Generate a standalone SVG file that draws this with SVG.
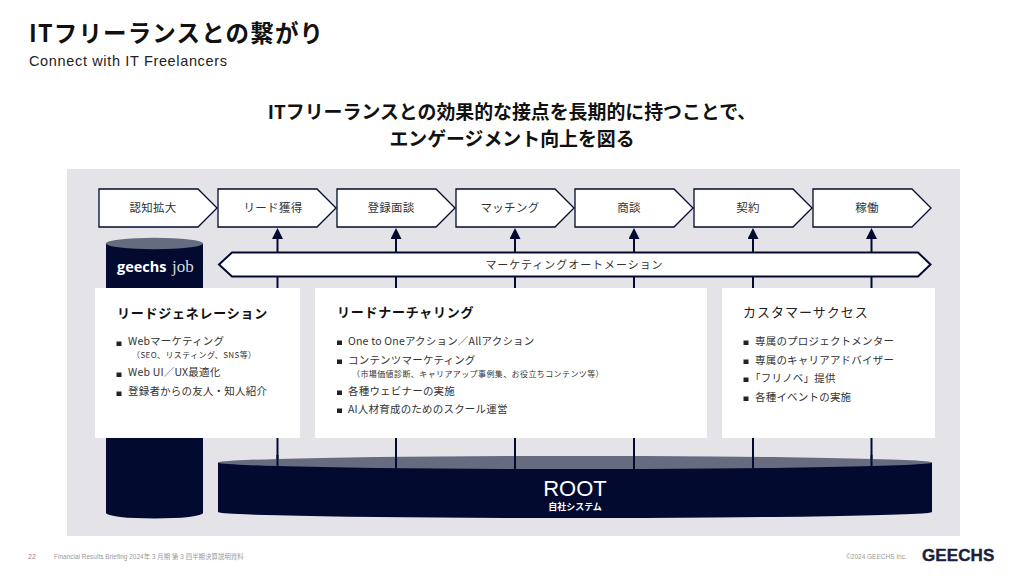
<svg xmlns="http://www.w3.org/2000/svg" width="1024" height="576" viewBox="0 0 1024 576">
<style>
text{font-family:"Noto Sans CJK JP","Noto Sans",sans-serif;fill:#222}
.lat{font-family:"Liberation Sans","Noto Sans CJK JP",sans-serif}
.step{fill:#fff;stroke:#020a30;stroke-width:1.3}
.st{font-size:11.5px;text-anchor:middle;letter-spacing:.3px;fill:#333}
.h{font-size:13px;font-weight:700;letter-spacing:.75px;fill:#111}
.b{font-size:10.5px;letter-spacing:.2px;fill:#333}
.s{font-size:8px;letter-spacing:.4px;fill:#333}
.c{stroke:#020a30;stroke-width:2;fill:none}
.dark{fill:#020a30}
.top{fill:#666b80}
.bu{fill:#222}
</style>
<defs>
<marker id="ah" markerUnits="userSpaceOnUse" markerWidth="11" markerHeight="11" refX="0" refY="5" orient="auto" viewBox="0 0 10 10"><path d="M0 0L10 5L0 10Z" fill="#020a30"/></marker>
</defs>
<rect width="1024" height="576" fill="#fff"/>
<text x="29" y="42" style="font-size:23.5px;font-weight:700;letter-spacing:1.15px;fill:#111">ITフリーランスとの繋がり</text>
<text x="29" y="66" class="lat" style="font-size:14.5px;letter-spacing:.65px;fill:#222">Connect with IT Freelancers</text>
<g text-anchor="middle" style="font-size:18.9px;font-weight:700">
<text x="512" y="119" style="fill:#111">ITフリーランスとの効果的な接点を長期的に持つことで、</text>
<text x="512" y="146" style="fill:#111">エンゲージメント向上を図る</text>
</g>
<rect id="panel" x="67" y="169" width="893" height="367" fill="#e3e3e8"/>

<g id="connectors">
<path class="c" d="M277.500 462V239" marker-end="url(#ah)"/>
<path class="c" d="M396 462V239" marker-end="url(#ah)"/>
<path class="c" d="M515 462V239" marker-end="url(#ah)"/>
<path class="c" d="M634 462V239" marker-end="url(#ah)"/>
<path class="c" d="M753 462V239" marker-end="url(#ah)"/>
<path class="c" d="M871.500 462V239" marker-end="url(#ah)"/>
</g>

<g id="step-1"><path class="step" d="M99 189H198L217 208L198 227H99Z"/><text class="st" x="153" y="212">認知拡大</text></g>
<g id="step-2"><path class="step" d="M218 189H317L336 208L317 227H218Z"/><text class="st" x="273" y="212">リード獲得</text></g>
<g id="step-3"><path class="step" d="M337 189H436L455 208L436 227H337Z"/><text class="st" x="391" y="212">登録面談</text></g>
<g id="step-4"><path class="step" d="M456 189H555L574 208L555 227H456Z"/><text class="st" x="510" y="212">マッチング</text></g>
<g id="step-5"><path class="step" d="M575 189H674L693 208L674 227H575Z"/><text class="st" x="629" y="212">商談</text></g>
<g id="step-6"><path class="step" d="M694 189H793L812 208L793 227H694Z"/><text class="st" x="748" y="212">契約</text></g>
<g id="step-7"><path class="step" d="M813 189H912L931 208L912 227H813Z"/><text class="st" x="867" y="212">稼働</text></g>

<g id="geechs-job">
<path class="dark" d="M106 243.500V513A48.500 5.500 0 0 0 203 513V243.500Z"/>
<ellipse class="top" cx="154.500" cy="243.500" rx="48.500" ry="5.700"/>
<text x="117" y="272" style="font-family:'Open Sans','Noto Sans',sans-serif;font-size:14.500px;font-weight:700;fill:#fff">geechs</text>
<text x="172" y="272" style="font-family:'Liberation Serif',serif;font-size:17px;fill:#d8d9e0">job</text>
</g>

<g id="automation">
<path d="M219 264.500L232 252.500H918L930.500 264.500L918 276.500H232Z" fill="#fff" stroke="#020a30" stroke-width="2"/>
<text class="st" x="574.500" y="268.500" style="font-size:11px;letter-spacing:.95px">マーケティングオートメーション</text>
</g>

<g id="root">
<path class="dark" d="M218 462.500V512A357 6 0 0 0 932 512V462.500Z"/>
<ellipse class="top" cx="575" cy="462.500" rx="357" ry="6.500"/>
<path class="c" d="M277.500 455V468.500M396 455V468.500M515 455V469M634 455V469M753 455V468.500M871.500 455V468" />
<text class="lat" x="575" y="496" text-anchor="middle" style="font-size:22px;fill:#fff">ROOT</text>
<text x="575" y="510" text-anchor="middle" style="font-size:9px;font-weight:700;fill:#fff">自社システム</text>
</g>

<g id="lead-generation">
<rect x="95" y="288" width="205" height="150" fill="#fff"/>
<text class="h" x="117" y="318">リードジェネレーション</text>
<rect class="bu" x="116.500" y="341.500" width="5" height="4.500"/>
<text class="b" x="128" y="345">Webマーケティング</text>
<text class="s" x="132" y="358">（SEO、リスティング、SNS等）</text>
<rect class="bu" x="116.500" y="372.500" width="5" height="4.500"/>
<text class="b" x="128" y="376">Web UI／UX最適化</text>
<rect class="bu" x="116.500" y="391.500" width="5" height="4.500"/>
<text class="b" x="128" y="395">登録者からの友人・知人紹介</text>
</g>

<g id="lead-nurturing">
<rect x="315" y="288" width="392" height="150" fill="#fff"/>
<text class="h" x="337" y="317">リードナーチャリング</text>
<rect class="bu" x="337" y="340.500" width="5" height="4.500"/>
<text class="b" x="348" y="345">One to Oneアクション／Allアクション</text>
<rect class="bu" x="337" y="359.500" width="5" height="4.500"/>
<text class="b" x="348" y="364">コンテンツマーケティング</text>
<text class="s" x="352" y="377">（市場価値診断、キャリアアップ事例集、お役立ちコンテンツ等）</text>
<rect class="bu" x="337" y="390.500" width="5" height="4.500"/>
<text class="b" x="348" y="395">各種ウェビナーの実施</text>
<rect class="bu" x="337" y="408.500" width="5" height="4.500"/>
<text class="b" x="348" y="413">AI人材育成のためのスクール運営</text>
</g>

<g id="customer-success">
<rect x="722" y="288" width="213" height="150" fill="#fff"/>
<text x="743" y="317" style="font-size:13px;letter-spacing:1px;fill:#222">カスタマーサクセス</text>
<rect class="bu" x="743.500" y="340.500" width="5" height="4.500"/>
<text class="b" x="755" y="345">専属のプロジェクトメンター</text>
<rect class="bu" x="743.500" y="359.500" width="5" height="4.500"/>
<text class="b" x="755" y="364">専属のキャリアアドバイザー</text>
<rect class="bu" x="743.500" y="377.500" width="5" height="4.500"/>
<text class="b" x="750" y="382">「フリノベ」提供</text>
<rect class="bu" x="743.500" y="396.500" width="5" height="4.500"/>
<text class="b" x="755" y="401">各種イベントの実施</text>
</g>

<g id="footer">
<text class="lat" x="28" y="559" style="font-size:7px;fill:#888">22</text>
<text class="lat" x="54" y="559" style="font-size:6.400px;letter-spacing:.05px;fill:#999">Financial Results Briefing 2024年 3 月期 第 3 四半期決算説明資料</text>
<text class="lat" x="846" y="559" style="font-size:6.500px;fill:#999">©2024 GEECHS Inc.</text>
<text x="922" y="561" style="font-family:'Liberation Sans',sans-serif;font-size:17px;font-weight:700;stroke:#1a1f3c;stroke-width:.4;letter-spacing:.1px;fill:#1a1f3c">GEECHS</text>
</g>
</svg>
